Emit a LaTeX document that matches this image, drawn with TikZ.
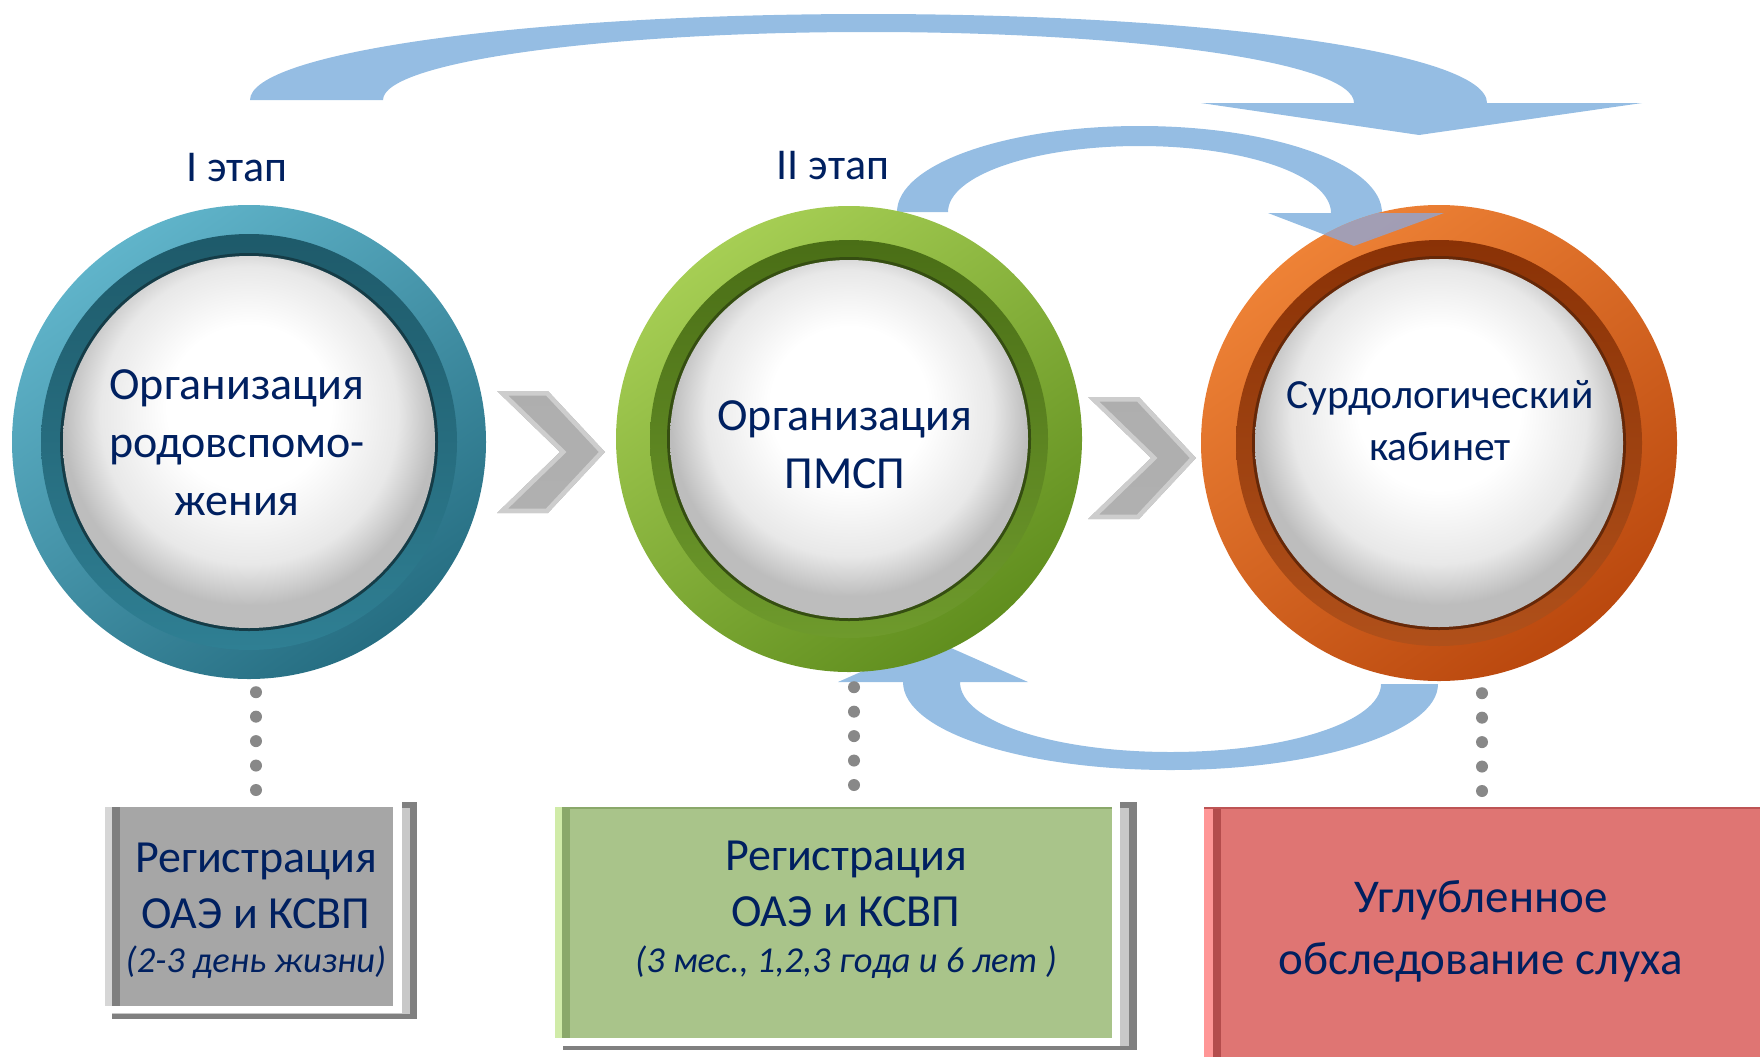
\documentclass[tikz,border=0pt]{standalone}
\usepackage{fontspec}
\setmainfont{Carlito}
\definecolor{navy}{RGB}{0,32,96}
\definecolor{arrowblue}{RGB}{149,189,227}
\definecolor{tealL}{RGB}{96,180,202}
\definecolor{tealD}{RGB}{38,110,130}
\definecolor{tealBT}{RGB}{30,90,106}
\definecolor{tealBB}{RGB}{47,127,147}
\definecolor{greenL}{RGB}{166,206,84}
\definecolor{greenD}{RGB}{96,142,30}
\definecolor{greenBT}{RGB}{74,110,22}
\definecolor{greenBB}{RGB}{110,154,44}
\definecolor{orangeL}{RGB}{238,130,54}
\definecolor{orangeD}{RGB}{186,72,14}
\definecolor{orangeBT}{RGB}{138,50,6}
\definecolor{orangeBB}{RGB}{176,80,26}
\definecolor{grayfill}{RGB}{166,166,166}
\definecolor{graylight}{RGB}{214,214,214}
\definecolor{graydark}{RGB}{127,127,127}
\definecolor{shadowdark}{RGB}{128,128,128}
\definecolor{shadowlight}{RGB}{200,200,200}
\definecolor{greenfill}{RGB}{169,196,138}
\definecolor{greenlight}{RGB}{208,235,168}
\definecolor{greendark}{RGB}{138,168,106}
\definecolor{redfill}{RGB}{223,117,115}
\definecolor{redlight}{RGB}{255,150,150}
\definecolor{reddark}{RGB}{180,76,76}
\definecolor{dotgray}{RGB}{136,136,136}
\definecolor{chevgray}{RGB}{160,160,160}
\definecolor{chevlight}{RGB}{205,205,205}
\pgfdeclareradialshading{sphereW}{\pgfpoint{0bp}{6bp}}{color(0bp)=(white); color(11bp)=(white); color(20bp)=(black!9); color(25bp)=(black!26); color(50bp)=(black!26)}
\newcommand\drawring[9]{%
  \shade[top color=#5, bottom color=#6, shading angle=35] (#1) circle[radius=#2];
  \shade[top color=#7, bottom color=#8] (#1) circle[radius=#3];
  \fill[#9] (#1) circle[radius=#4];
  \shade[shading=sphereW] (#1) circle[radius=#4-3pt];
}
\tikzset{
  ballnode/.style={circle, inner sep=0pt, minimum size=#1},
  ctext/.style={text=navy, align=center, font=\fontsize{46}{58}\selectfont},
  ctextsmall/.style={text=navy, align=center, font=\fontsize{41.5}{52}\selectfont},
  stage/.style={text=navy, font=\fontsize{44}{52}\selectfont},
  boxtext/.style={text=navy, align=center, font=\fontsize{46}{56}\selectfont},
  boxtextbig/.style={text=navy, align=center, font=\fontsize{47}{62}\selectfont},
  subtext/.style={text=navy, font=\fontsize{36.5}{42}\selectfont\itshape},
  dotline/.style={draw=dotgray, line width=12pt, line cap=round, dash pattern=on 0pt off 24.45pt},
  boxbase/.style={rectangle, inner sep=0pt},
}
\begin{document}
\begin{tikzpicture}[x=1pt,y=-1pt]
\useasboundingbox (0,0) rectangle (1760,1063);

% circle anchors
\node[ballnode=474pt] (c1) at (249,442) {};
\node[ballnode=466pt] (c2) at (849,439) {};
\node[ballnode=476pt] (c3) at (1439,443) {};

% lower curved arrow (behind the circles)
\fill[arrowblue] (1438,684) .. controls (1438,731.5) and (1318.2,770) .. (1170.5,770)
  .. controls (1022.8,770) and (903,731.5) .. (903,682) -- (838,682) -- (933,640)
  -- (1028,682) -- (960,682) .. controls (960,721.6) and (1054.2,752) .. (1170.5,752)
  .. controls (1286.8,752) and (1381,721.6) .. (1381,684) -- cycle;

% big upper curved arrow
\fill[arrowblue] (250,100) .. controls (250,52.5) and (526.9,14) .. (868.5,14)
  .. controls (1210.1,14) and (1487,52.5) .. (1487,103) -- (1642,103) -- (1419,135)
  -- (1201,103) -- (1354,103) .. controls (1354,62.4) and (1136.6,32) .. (868.5,32)
  .. controls (600.4,32) and (383,62.4) .. (383,100) -- cycle;

% small upper curved arrow
\fill[arrowblue] (897,212) .. controls (897,164.5) and (1005.6,126) .. (1139.5,126)
  .. controls (1273.4,126) and (1382,164.5) .. (1382,213) -- (1444,213) -- (1354,246)
  -- (1268,213) -- (1331,213) .. controls (1331,175.5) and (1245.3,146) .. (1139.5,146)
  .. controls (1033.7,146) and (948,175.5) .. (948,212) -- cycle;

% chevrons
\foreach \sx/\sy in {497/391, 1088/397}{
  \begin{scope}[shift={(\sx,\sy)}]
    \clip (0,0) -- (51,0) -- (108,61) -- (51,122) -- (0,122) -- (63,61) -- cycle;
    \shade[top color=chevgray!85, bottom color=chevgray!110!black] (-5,-5) rectangle (115,127);
    \draw[chevlight, line width=9pt, line join=miter] (0,0) -- (51,0) -- (108,61) -- (51,122) -- (0,122) -- (63,61) -- cycle;
  \end{scope}
}

% circles
\drawring{c1.center}{237pt}{208pt}{189pt}{tealL}{tealD}{tealBT}{tealBB}{tealD!55!black}
\drawring{c2.center}{233pt}{199pt}{182pt}{greenL}{greenD}{greenBT}{greenBB}{greenD!55!black}
\drawring{c3.center}{238pt}{203pt}{187pt}{orangeL}{orangeD}{orangeBT}{orangeBB}{orangeD!55!black}

% translucent part of the arrowhead over circle III
\begin{scope}
  \clip (c3.center) circle[radius=238pt];
  \fill[arrowblue!90!blue, fill opacity=0.72] (1268,213) -- (1444,213) -- (1354,246) -- cycle;
\end{scope}

% circle texts
\node[ctext] (t1) at (237,443) {Организация\\родовспомо-\\жения};
\node[ctext] (t2) at (845,445) {Организация\\ПМСП};
\node[ctextsmall] (t3) at (1440,421) {Сурдологический\\кабинет};

% stage labels
\node[stage] (s1) at (237,168) {I этап};
\node[stage] (s2) at (833,166) {II этап};

% box shadows
\fill[shadowdark] (112,802) rectangle (417,1019);
\fill[shadowlight] (112,808) rectangle (410,1014);
\fill[white] (100,798) rectangle (402,1013);
\fill[shadowdark] (563,802) rectangle (1137,1050);
\fill[shadowlight] (563,808) rectangle (1129,1046);
\fill[white] (550,798) rectangle (1120,1046);

% boxes
\node[boxbase, fill=grayfill, minimum width=273pt, minimum height=199pt] (b1) at (256.5,906.5) {};
\fill[graylight] ([xshift=-15pt]b1.north west) rectangle ([xshift=-8pt]b1.south west);
\fill[graydark] ([xshift=-8pt]b1.north west) rectangle (b1.south west);

\node[boxbase, fill=greenfill, minimum width=542pt, minimum height=231pt] (b2) at (841,922.5) {};
\fill[greenlight] ([xshift=-15pt]b2.north west) rectangle ([xshift=-8pt]b2.south west);
\fill[greendark] ([xshift=-8pt]b2.north west) rectangle (b2.south west);
\fill[greendark] (b2.north west) rectangle ([yshift=-2pt]b2.north east);

\node[boxbase, fill=redfill, minimum width=539pt, minimum height=250pt] (b3) at (1490.5,932) {};
\fill[redlight] ([xshift=-17pt]b3.north west) rectangle ([xshift=-8pt]b3.south west);
\fill[reddark] ([xshift=-8pt]b3.north west) rectangle (b3.south west);
\fill[reddark!80!redfill] ([xshift=-17pt]b3.north west) rectangle ([yshift=-2pt]b3.north east);

% box texts
\node[boxtext] (t4) at (256,886) {Регистрация\\ОАЭ и КСВП};
\node[subtext] (t4s) at (256,962) {(2-3 день жизни)};
\node[boxtext] (t5) at (846,884) {Регистрация\\ОАЭ и КСВП};
\node[subtext] (t5s) at (846,962) {(3 мес., 1,2,3 года и 6 лет )};
\node[boxtextbig] (t6) at (1481,931) {Углубленное\\обследование слуха};

% dotted connectors
\draw[dotline, shorten <=13pt, shorten >=15pt] ([xshift=7pt]c1.south) -- ([xshift=-0.5pt]b1.north);
\draw[dotline, shorten <=15pt, shorten >=19pt] ([xshift=5pt]c2.south) -- ([xshift=13pt]b2.north);
\draw[dotline, shorten <=12pt, shorten >=15pt] ([xshift=43pt]c3.south) -- ([xshift=-8.5pt]b3.north);
\end{tikzpicture}
\end{document}
